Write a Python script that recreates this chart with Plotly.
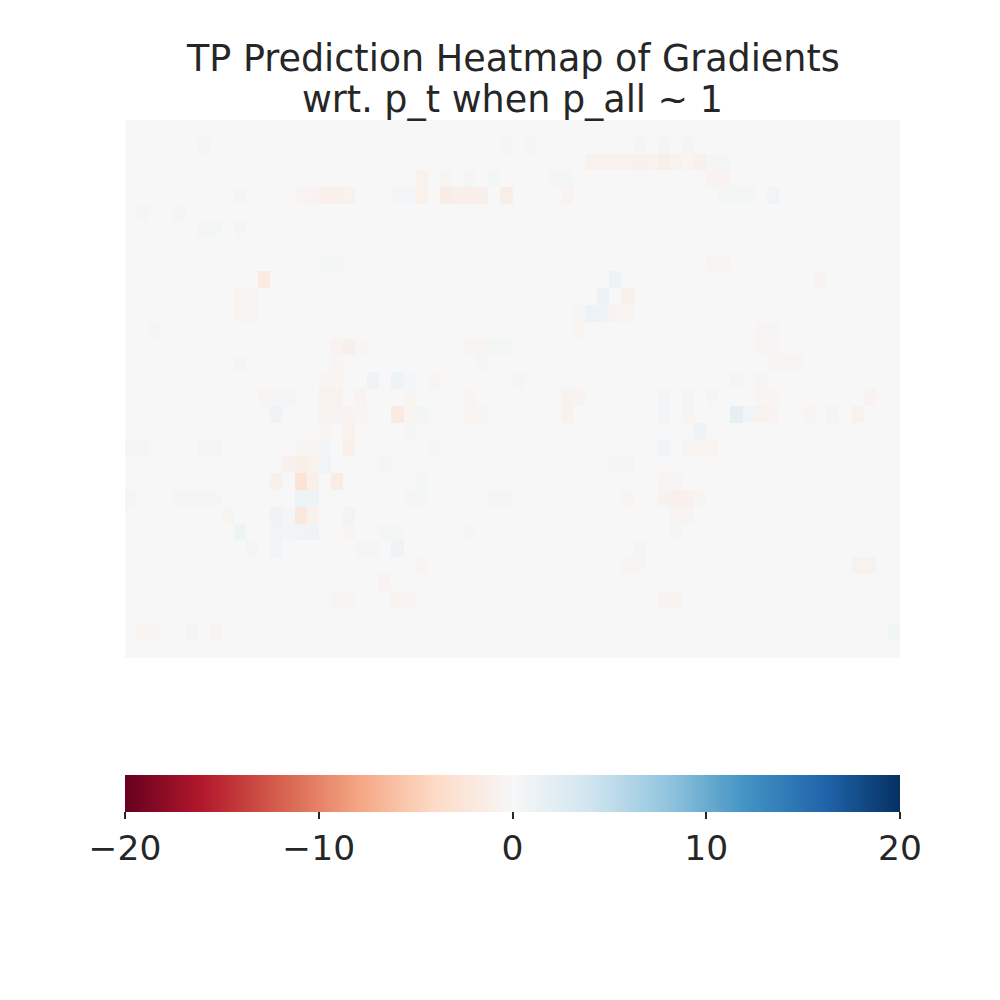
import numpy as np
import plotly.graph_objects as go

n_rows, n_cols = 32, 64

# tinted cells as (row, col, value); every other cell is ~0
cells = [
    (1, 6, 0.3), (1, 23, 0.2), (1, 24, 0.2), (1, 25, 0.2), (1, 26, 0.2),
    (1, 31, -0.3), (1, 33, -0.3), (1, 42, -0.3), (1, 44, -0.3), (1, 46, -0.3),
    (2, 38, -0.8), (2, 39, -0.8), (2, 40, -0.8), (2, 41, -0.8), (2, 42, -1.0),
    (2, 43, -0.7), (2, 44, -1.2), (2, 45, -0.8), (2, 46, -0.4), (2, 47, -1.0),
    (2, 48, 0.3), (2, 49, 0.3),
    (3, 24, -0.9), (3, 26, -0.5), (3, 28, 0.3), (3, 30, 0.3), (3, 35, 0.3),
    (3, 36, 0.3), (3, 48, -0.6), (3, 49, -0.6),
    (4, 9, -0.5), (4, 14, -0.5), (4, 15, -0.6), (4, 16, -1.0), (4, 17, -1.0),
    (4, 18, -0.9), (4, 22, 0.4), (4, 23, 0.4), (4, 24, -0.9), (4, 26, -1.6),
    (4, 27, -1.1), (4, 28, -1.1), (4, 29, -1.1), (4, 31, -1.3), (4, 36, -0.6),
    (4, 49, 0.3), (4, 50, 0.3), (4, 51, 0.3), (4, 53, 0.6),
    (5, 1, -0.4), (5, 4, 0.3),
    (6, 6, 0.3), (6, 7, 0.3), (6, 9, 0.4),
    (8, 16, 0.3), (8, 17, 0.3), (8, 48, -0.4), (8, 49, -0.4),
    (9, 11, -1.8), (9, 40, 1.0), (9, 57, -0.6),
    (10, 9, -0.4), (10, 10, -0.4), (10, 39, 1.2), (10, 41, -1.0),
    (11, 9, -0.4), (11, 10, -0.4), (11, 37, 0.4), (11, 38, 1.2), (11, 39, 1.0),
    (11, 40, -0.6), (11, 41, -0.4),
    (12, 2, -0.3), (12, 37, -0.4), (12, 52, -0.3), (12, 53, -0.3),
    (13, 17, -0.6), (13, 18, -1.1), (13, 19, -0.5), (13, 28, -0.4), (13, 29, -0.4),
    (13, 30, 0.3), (13, 31, 0.3), (13, 52, -0.3), (13, 53, -0.3),
    (14, 9, -0.3), (14, 17, -0.4), (14, 29, 0.3), (14, 53, -0.4), (14, 54, -0.4),
    (14, 55, -0.4),
    (15, 16, -0.4), (15, 17, -0.4), (15, 20, 0.8), (15, 22, 0.9), (15, 23, 0.4),
    (15, 25, -0.4), (15, 32, -0.3), (15, 50, -0.4), (15, 52, -0.3),
    (16, 11, -0.4), (16, 12, 0.3), (16, 13, 0.3), (16, 16, -0.8), (16, 17, -0.8),
    (16, 19, -0.6), (16, 23, -0.5), (16, 28, -0.4), (16, 36, -0.7), (16, 37, -0.6),
    (16, 44, 0.4), (16, 46, -0.3), (16, 48, 0.4), (16, 52, -0.5), (16, 53, -0.5),
    (16, 61, -0.6),
    (17, 12, 0.8), (17, 16, -0.6), (17, 17, -0.6), (17, 18, -0.6), (17, 19, -0.5),
    (17, 22, -1.8), (17, 23, -0.4), (17, 24, 0.5), (17, 28, -0.4), (17, 29, -0.4),
    (17, 36, -0.8), (17, 44, 0.5), (17, 46, -0.4), (17, 50, 1.8), (17, 51, 0.6),
    (17, 52, -0.7), (17, 53, -0.6), (17, 56, -0.5), (17, 58, 0.5), (17, 60, -0.7),
    (18, 16, -0.4), (18, 18, -0.9), (18, 23, 0.3), (18, 47, 0.8),
    (19, 0, -0.3), (19, 1, -0.3), (19, 6, -0.3), (19, 7, -0.3), (19, 14, -0.5),
    (19, 15, -0.5), (19, 16, 0.5), (19, 18, -1.0), (19, 25, 0.3), (19, 44, 0.6),
    (19, 46, -0.4), (19, 47, -0.4), (19, 48, -0.4),
    (20, 13, -0.8), (20, 14, -1.2), (20, 15, -0.9), (20, 16, 0.7), (20, 21, 0.3),
    (20, 40, 0.4), (20, 41, 0.4),
    (21, 12, -1.0), (21, 14, -2.8), (21, 15, -1.0), (21, 17, -1.6), (21, 24, 0.3),
    (21, 44, -0.4), (21, 45, -0.4),
    (22, 0, -0.3), (22, 4, 0.3), (22, 5, 0.3), (22, 6, 0.3), (22, 7, 0.3),
    (22, 14, 1.0), (22, 15, 0.9), (22, 23, 0.3), (22, 24, 0.3), (22, 30, 0.3),
    (22, 31, 0.3), (22, 41, -0.4), (22, 44, -0.7), (22, 45, -1.0), (22, 46, -0.8),
    (22, 47, -0.4),
    (23, 8, -0.5), (23, 12, 0.8), (23, 13, 0.4), (23, 14, -2.2), (23, 15, -0.7),
    (23, 18, 0.7), (23, 45, -0.4), (23, 46, -0.4),
    (24, 9, 0.9), (24, 12, 0.7), (24, 13, 0.5), (24, 14, 0.6), (24, 15, 1.0),
    (24, 18, -0.4), (24, 21, 0.3), (24, 22, 0.3), (24, 28, 0.3), (24, 45, 0.3),
    (25, 10, 0.4), (25, 12, 0.7), (25, 19, -0.3), (25, 20, 0.4), (25, 22, 0.8),
    (25, 42, 0.3),
    (26, 24, -0.4), (26, 41, -0.4), (26, 42, -0.4), (26, 60, -0.7), (26, 61, -0.7),
    (27, 21, -0.6),
    (28, 17, -0.4), (28, 18, -0.4), (28, 22, -0.6), (28, 23, -0.5), (28, 44, -0.6),
    (28, 45, -0.6),
    (30, 1, -0.4), (30, 2, -0.4), (30, 5, 0.3), (30, 7, -0.5), (30, 63, 0.5),
]

tick_vals = [-20, -10, 0, 10, 20]
tick_text = ["\u221220", "\u221210", "0", "10", "20"]

title_lines = ["TP Prediction Heatmap of Gradients", "wrt. p_t when p_all ~ 1"]

z = np.zeros((n_rows, n_cols))
for r, c, v in cells:
    z[r, c] = v

# matplotlib RdBu
rdbu = ["#67001f", "#b2182b", "#d6604d", "#f4a582", "#fddbc7", "#f7f7f7",
        "#d1e5f0", "#92c5de", "#4393c3", "#2166ac", "#053061"]
colorscale = [[i / (len(rdbu) - 1), col] for i, col in enumerate(rdbu)]

fig = go.Figure(go.Heatmap(
    z=z,
    zmin=-20, zmax=20,
    colorscale=colorscale,
    colorbar=dict(
        orientation="h",
        thickness=37,
        len=775, lenmode="pixels",
        x=0.5, xref="paper", xanchor="center",
        y=0.233, yref="container", yanchor="top",
        xpad=0, ypad=0,
        outlinewidth=0,
        ticks="outside", ticklen=7, tickwidth=1.5, tickcolor="#262626",
        tickvals=tick_vals, ticktext=tick_text,
        tickfont=dict(size=34.5, color="#262626"),
    ),
))

# two title lines placed separately to get matplotlib-like line spacing
for text, ypos in zip(title_lines, [1.1152, 1.0372]):
    fig.add_annotation(
        text=text, xref="paper", yref="paper", x=0.5, y=ypos,
        xanchor="center", yanchor="middle", showarrow=False,
        font=dict(size=36.5, color="#262626"),
    )

fig.update_layout(
    width=1000, height=1000,
    margin=dict(l=117, r=108, t=112, b=350),
    paper_bgcolor="white", plot_bgcolor="white",
    font=dict(family="DejaVu Sans", color="#262626"),
    xaxis=dict(visible=False, range=[-0.5, n_cols - 0.5]),
    yaxis=dict(visible=False, range=[n_rows - 0.5, -0.5]),
)

fig.write_html("out.html")
